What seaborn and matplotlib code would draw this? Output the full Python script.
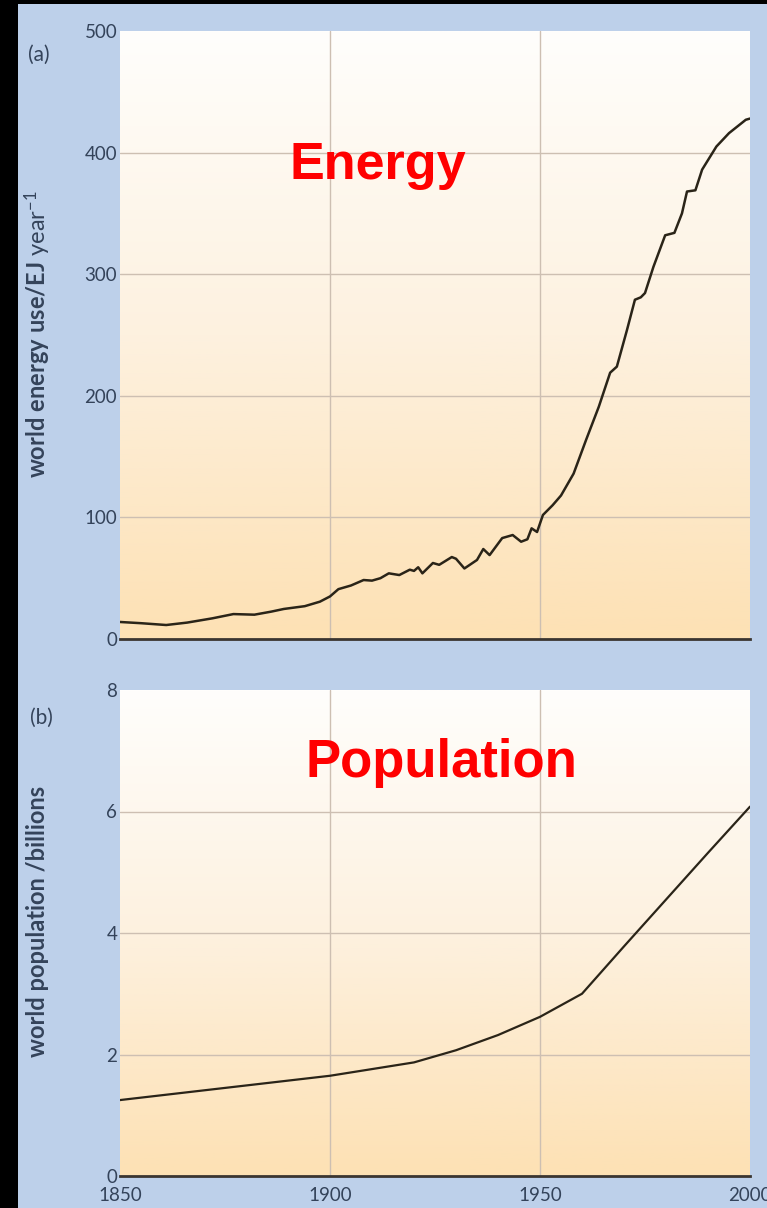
import numpy as np
import pandas as pd
import matplotlib
matplotlib.use("Agg")
import matplotlib.pyplot as plt
import seaborn as sns
from matplotlib.colors import LinearSegmentedColormap
from matplotlib.patches import Rectangle

# ---- data ----
energy_years = [1850, 1855, 1861, 1866, 1872, 1877, 1882, 1886, 1889, 1894, 1897.6,
                1900, 1902, 1905, 1908, 1910, 1912, 1914, 1916.5, 1919, 1920, 1921,
                1922, 1924.5, 1926, 1929, 1930, 1932, 1935, 1936.5, 1938, 1941,
                1943.5, 1945.5, 1947, 1948, 1949.3, 1950.7, 1953, 1955, 1958, 1961,
                1964, 1966.7, 1968.3, 1970.7, 1972.6, 1974, 1975, 1977, 1979.8, 1982,
                1983.8, 1985, 1987, 1988.6, 1992, 1995, 1999, 2000]
energy_values = [14, 13, 11.5, 13.5, 17, 20.5, 20, 22.5, 24.7, 27, 30.7,
                 35, 41, 44, 48.5, 48, 50, 54, 52.6, 57, 56, 59,
                 54, 62.5, 61, 67.4, 66, 58, 65, 74, 69, 83,
                 85.5, 80, 82, 91, 88, 102, 110, 118, 136, 164,
                 191, 219, 224, 254, 279, 281, 284.5, 306, 332, 334,
                 350, 368, 369, 386, 405, 416, 427, 428]

pop_years = [1850, 1900, 1920, 1930, 1940, 1950, 1960, 1970, 1980, 1990, 2000]
pop_values = [1.25, 1.65, 1.87, 2.07, 2.32, 2.62, 3.0, 3.78, 4.55, 5.32, 6.08]

energy_ticks = [0, 100, 200, 300, 400, 500]
pop_ticks = [0, 2, 4, 6, 8]
year_ticks = [1850, 1900, 1950, 2000]

energy_df = pd.DataFrame({"year": energy_years, "energy": energy_values})
pop_df = pd.DataFrame({"year": pop_years, "pop": pop_values})

# ---- style ----
sns.set_style("white")
plt.rcParams['font.family'] = ['Lato', 'DejaVu Sans']
plt.rcParams['mathtext.fontset'] = 'custom'
plt.rcParams['mathtext.rm'] = 'Lato'
plt.rcParams['mathtext.bf'] = 'Lato:bold'
plt.rcParams['mathtext.it'] = 'Lato:italic'

BG = "#bdd0ea"
TXT = "#34435a"
GRID = "#cdbfb2"
LINE = "#2a2418"

W, H = 767, 1208
fig = plt.figure(figsize=(W / 100, H / 100), dpi=100)
fig.patch.set_facecolor(BG)
# black border strips (left and top)
fig.add_artist(Rectangle((0, 0), 18 / W, 1, transform=fig.transFigure,
                         facecolor="black", edgecolor="none", zorder=10))
fig.add_artist(Rectangle((0, 1 - 4 / H), 1, 4 / H, transform=fig.transFigure,
                         facecolor="black", edgecolor="none", zorder=10))

left, right = 120, 750
ax1 = fig.add_axes([left / W, 1 - 639 / H, (right - left) / W, (639 - 31) / H])
ax2 = fig.add_axes([left / W, 1 - 1176 / H, (right - left) / W, (1176 - 690) / H])

cmap = LinearSegmentedColormap.from_list("grad", ["#fde1b4", "#fdf1df", "#fffefc"])
grad = np.linspace(0, 1, 256).reshape(-1, 1)


def style(ax, ymax, yticks):
    ax.set_xlim(1850, 2000)
    ax.set_ylim(0, ymax)
    ax.imshow(grad, extent=[1850, 2000, 0, ymax], origin="lower", aspect="auto",
              cmap=cmap, zorder=0)
    ax.set_yticks(yticks)
    ax.set_xticks(year_ticks)
    for y in yticks[1:-1]:
        ax.axhline(y, color=GRID, lw=1.0, zorder=1)
    for x in year_ticks[1:-1]:
        ax.axvline(x, color=GRID, lw=1.0, zorder=1)
    for s in ["top", "right", "left"]:
        ax.spines[s].set_visible(False)
    ax.spines["bottom"].set_color("#3a3530")
    ax.spines["bottom"].set_linewidth(2.0)
    ax.spines["bottom"].set_zorder(5)
    ax.tick_params(axis="both", length=0, pad=2, labelsize=13.5, colors=TXT)
    ax.set_xlabel("")
    ax.set_ylabel("")


sns.lineplot(data=energy_df, x="year", y="energy", ax=ax1, color=LINE, lw=1.8, zorder=3)
style(ax1, 500, energy_ticks)
ax1.set_xticklabels([])

sns.lineplot(data=pop_df, x="year", y="pop", ax=ax2, color=LINE, lw=1.6, zorder=3)
style(ax2, 8, pop_ticks)
ax2.tick_params(axis="x", pad=8)

# labels
fig.text(38 / W, 1 - 334 / H, r"$\mathbf{world\ energy\ use/EJ}$ year$^{-1}$", rotation=90,
         ha="center", va="center", fontsize=17, color=TXT)
fig.text(38 / W, 1 - 921 / H, "world population /billions", rotation=90,
         ha="center", va="center", fontsize=17, fontweight="bold", color=TXT)
fig.text(39 / W, 1 - 55 / H, "(a)", ha="center", va="center", fontsize=15, color=TXT)
fig.text(41 / W, 1 - 718 / H, "(b)", ha="center", va="center", fontsize=15, color=TXT)

fig.text(378 / W, 1 - 166 / H, "Energy", ha="center", va="center", fontsize=37.5,
         fontweight="bold", color="#ff0000", family=["Liberation Sans", "DejaVu Sans"])
fig.text(441 / W, 1 - 763 / H, "Population", ha="center", va="center", fontsize=38,
         fontweight="bold", color="#ff0000", family=["Liberation Sans", "DejaVu Sans"])

fig.savefig("out.png", dpi=100, facecolor=BG)
